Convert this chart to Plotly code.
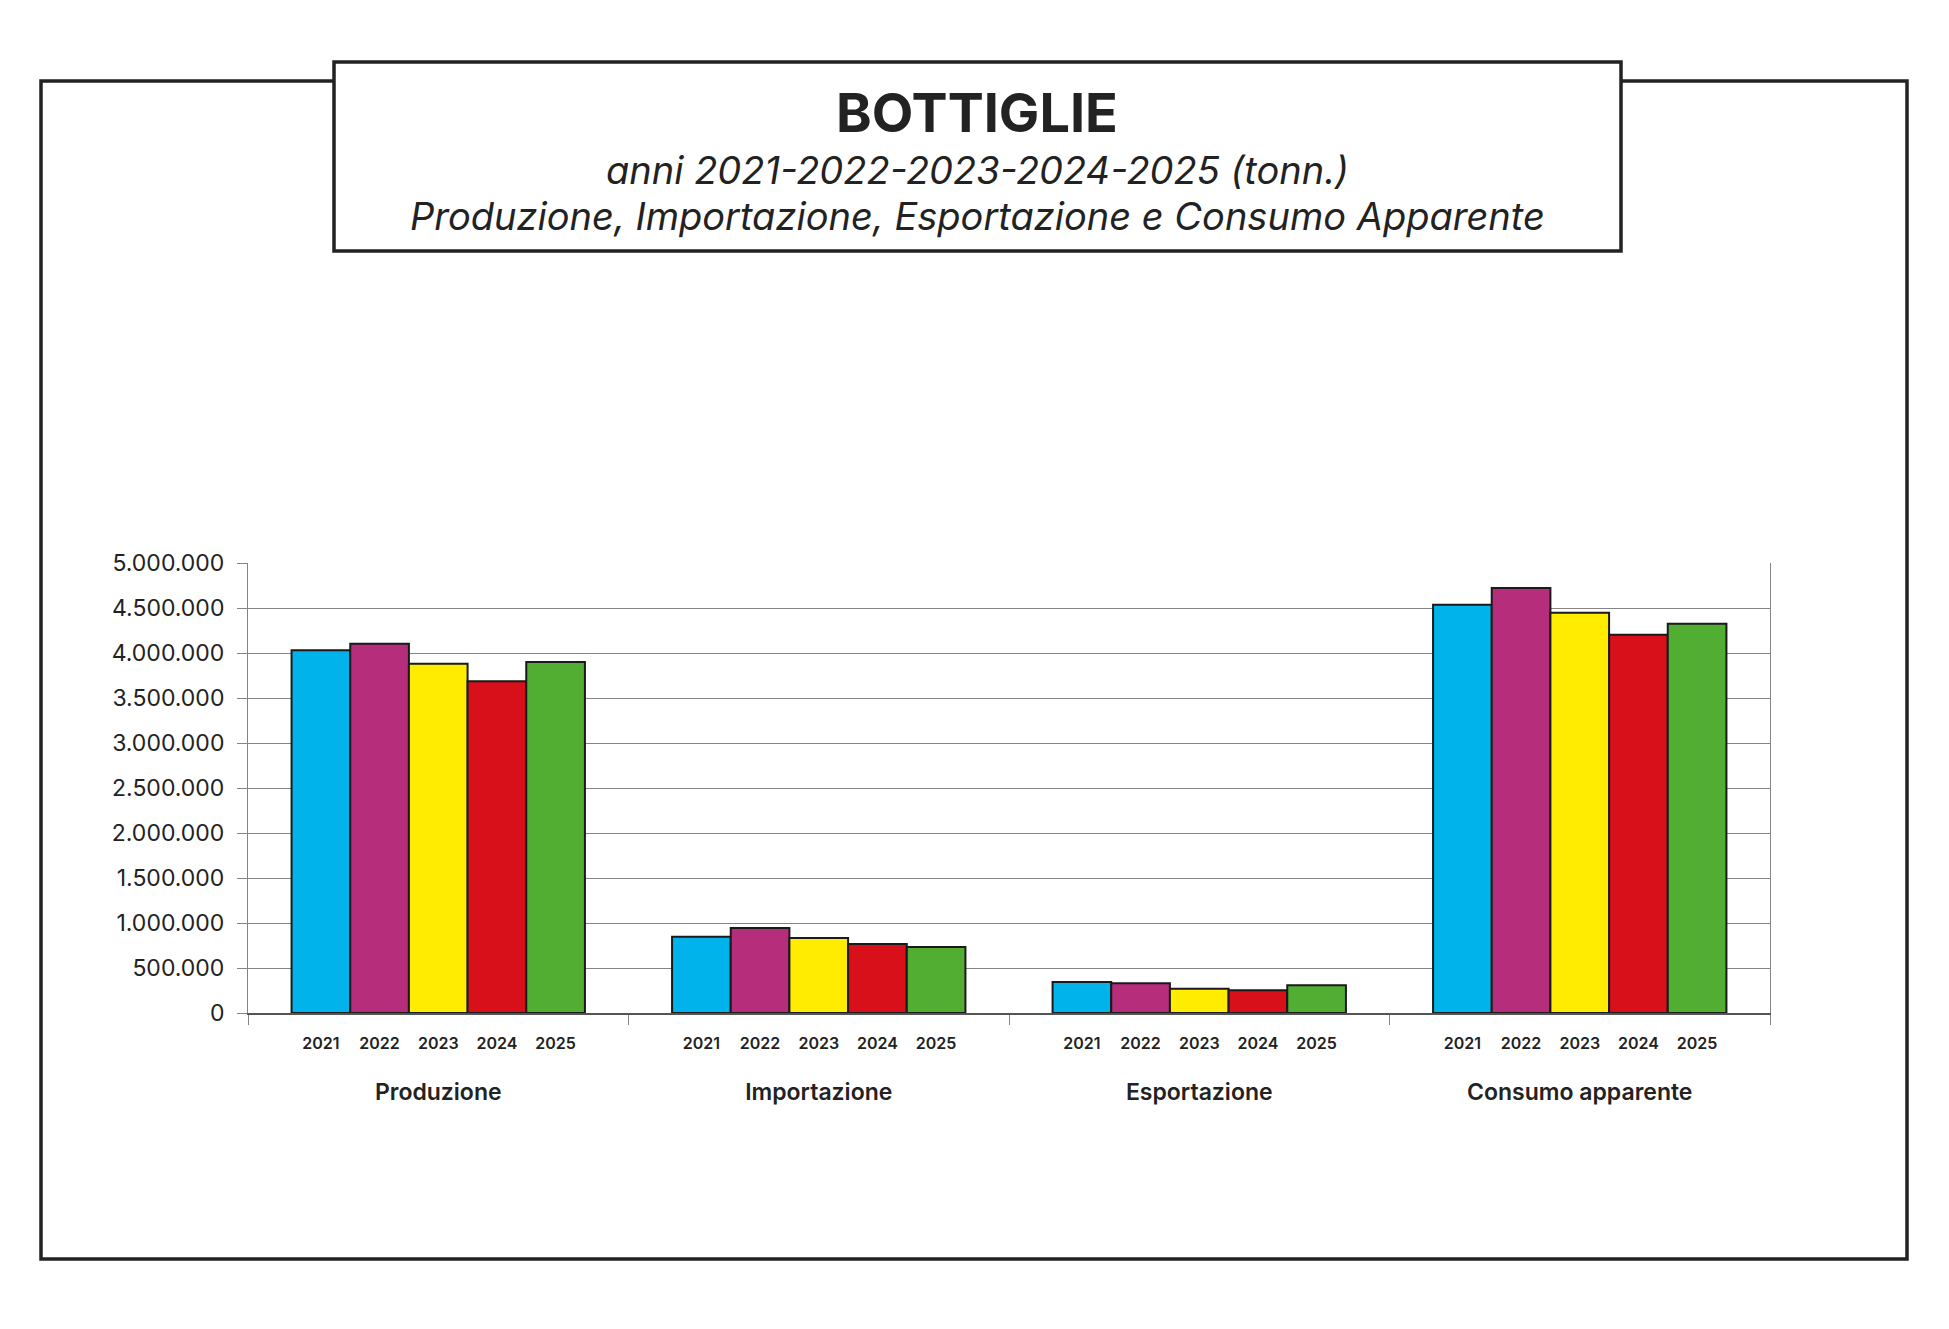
import plotly.graph_objects as go

# data (tonnes)
categories = ['Produzione', 'Importazione', 'Esportazione', 'Consumo apparente']
years = ['2021', '2022', '2023', '2024', '2025']
v2021 = [4030000, 848000, 344000, 4536000]
v2022 = [4104000, 944000, 330000, 4722000]
v2023 = [3881000, 833000, 270000, 4448000]
v2024 = [3685000, 767000, 252000, 4202000]
v2025 = [3900000, 733000, 307000, 4325000]
values = [v2021, v2022, v2023, v2024, v2025]
colors = ['#00B3EA', '#B62D7B', '#FFEC00', '#D71019', '#52AE32']

# page is 1949x1329, the body margin moves the figure 8px right and down
OFF = 8
W, H = 1949 - 2 * OFF, 1329 - 2 * OFF
L, T = 248 - OFF, 563 - OFF
R, B = W - (1770 - OFF), H - (1013 - OFF)
BARGAP = 0.229

FONT = 'Inter'
DARK = '#222222'
GRID = '#858585'


def px_x(px):
    return (px - OFF - L) / (W - L - R)


def px_y(py):
    return (H - B - (py - OFF)) / (H - T - B)


fig = go.Figure()
for yr, vals, col in zip(years, values, colors):
    fig.add_trace(go.Bar(
        x=categories, y=vals, name=yr,
        marker=dict(color=col, line=dict(color='#1a1a1a', width=2)),
        showlegend=False,
    ))

# year labels sit under each bar: positions follow the group layout
n = len(years)
bw = (1 - BARGAP) / n
year_pos, year_txt = [], []
for i in range(len(categories)):
    for k, yr in enumerate(years):
        year_pos.append(i - (1 - BARGAP) / 2 + (k + 0.5) * bw)
        year_txt.append(yr)

fig.update_layout(
    width=W, height=H,
    margin=dict(l=L, r=R, t=T, b=B, pad=0),
    paper_bgcolor='white', plot_bgcolor='white',
    barmode='group', bargap=BARGAP, bargroupgap=0,
    separators=',.',
    font=dict(family=FONT, color=DARK),
    xaxis=dict(
        type='category', range=[-0.5, 3.5], automargin=False,
        showline=True, linecolor='#555555', linewidth=1.5,
        tickson='boundaries', ticks='outside', ticklen=10, tickcolor=GRID,
        showgrid=False,
        tickfont=dict(family=FONT, size=23, color=DARK, weight=600),
        ticklabelstandoff=58,
    ),
    xaxis2=dict(
        overlaying='x', anchor='y', side='bottom', range=[-0.5, 3.5],
        automargin=False, showline=False, showgrid=False, zeroline=False,
        ticks='', tickmode='array', tickvals=year_pos, ticktext=year_txt,
        tickfont=dict(family=FONT, size=16, color=DARK, weight=600),
        ticklabelstandoff=19,
    ),
    yaxis=dict(
        range=[0, 5000000], dtick=500000, tickformat=',d', automargin=False,
        showgrid=True, gridcolor=GRID, gridwidth=1, zeroline=False,
        showline=True, mirror=True, linecolor=GRID, linewidth=1,
        ticks='outside', ticklen=10, tickcolor=GRID,
        tickfont=dict(family=FONT, size=23, color=DARK),
        ticklabelstandoff=8,
    ),
)

# invisible trace so the second x axis is drawn
fig.add_trace(go.Scatter(x=[year_pos[0]], y=[0], xaxis='x2', mode='markers',
                         marker=dict(opacity=0), showlegend=False, hoverinfo='skip'))

# outer frame and title box
fig.add_shape(type='rect', xref='paper', yref='paper',
              x0=px_x(41), x1=px_x(1907), y0=px_y(81), y1=px_y(1259),
              line=dict(color=DARK, width=3.5), fillcolor='rgba(0,0,0,0)', layer='above')
fig.add_shape(type='rect', xref='paper', yref='paper',
              x0=px_x(334), x1=px_x(1621), y0=px_y(62), y1=px_y(251),
              line=dict(color=DARK, width=3.5), fillcolor='white', layer='above')

cx = px_x(977)
fig.add_annotation(text='<b>BOTTIGLIE</b>', xref='paper', yref='paper', x=cx, y=px_y(112),
                   showarrow=False, xanchor='center', yanchor='middle',
                   font=dict(family=FONT, size=54, color=DARK))
fig.add_annotation(text='<i>anni 2021-2022-2023-2024-2025 (tonn.)</i>', xref='paper', yref='paper',
                   x=cx, y=px_y(170), showarrow=False, xanchor='center', yanchor='middle',
                   font=dict(family=FONT, size=38, color=DARK))
fig.add_annotation(text='<i>Produzione, Importazione, Esportazione e Consumo Apparente</i>',
                   xref='paper', yref='paper', x=cx, y=px_y(216), showarrow=False,
                   xanchor='center', yanchor='middle',
                   font=dict(family=FONT, size=38, color=DARK))

fig.write_html("out.html")
